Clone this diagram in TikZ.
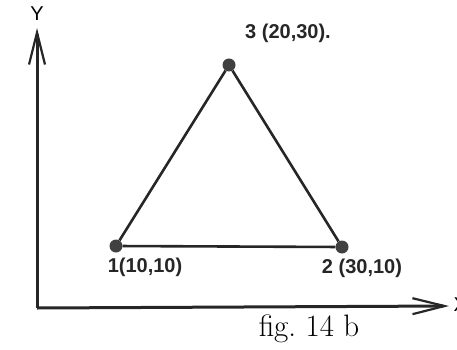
\documentclass[tikz,border=0pt]{standalone}
\usepackage{fontspec}
\newfontfamily\labfont{Liberation Sans}
\usetikzlibrary{arrows.meta}
\tikzset{
  knot/.style={circle,fill=black!75,inner sep=0pt,minimum size=13pt},
  knotlabel/.style={font=\labfont\bfseries\fontsize{20}{20}\selectfont,text=black!85},
  axis/.style={line width=3pt,-{Straight Barb[length=32pt,width=16pt,line width=2.2pt]}},
  side/.style={line width=2.6pt,black!85}
}
\begin{document}
\begin{tikzpicture}[x=1pt,y=-1pt]
    \useasboundingbox (0,0) rectangle (457,350);
    % axes
    \coordinate (O) at (37,308);
    \coordinate (ytip) at (37,28);
    \coordinate (xtip) at (449,306);
    \draw[axis,black!85] (O) -- (ytip);
    \draw[axis,black!85] (O) -- (xtip);
    \node[font=\labfont\fontsize{20}{20}\selectfont] (ylab) at (37,14) {Y};
    \node[font=\labfont\fontsize{20}{20}\selectfont,anchor=west] (xlab) at (450,305) {X};
    % nodes of the triangle
    \node[knot] (n1) at (116,246) {};
    \node[knot] (n2) at (342,247) {};
    \node[knot] (n3) at (229,65) {};
    \draw[side] (n1) -- (n2) -- (n3) -- (n1);
    % coordinates
    \node[knotlabel] (l1) at (145,267) {1(10,10)};
    \node[knotlabel] (l2) at (362,268) {2 (30,10)};
    \node[knotlabel] (l3) at (288,33) {3 (20,30).};
    % caption
    \node[font=\fontsize{31}{31}\selectfont] (cap) at (309,329) {fig.\ 14\ b};
\end{tikzpicture}
\end{document}
